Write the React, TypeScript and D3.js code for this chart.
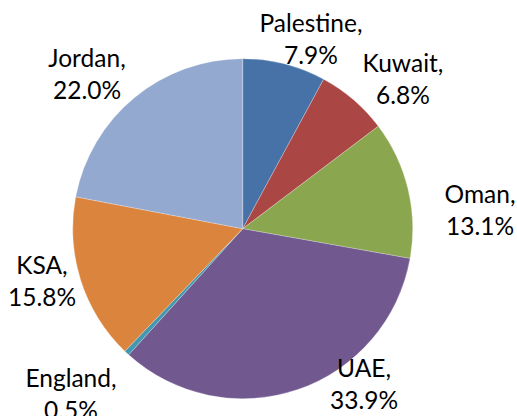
import React from "react";
import * as d3 from "d3";

const countries = ["Palestine", "Kuwait", "Oman", "UAE", "England", "KSA", "Jordan"];
const shares = [7.9, 6.8, 13.1, 33.9, 0.5, 15.8, 22.0];
const colors = ["#4672A8", "#AA4644", "#8AA64F", "#71588F", "#4198AF", "#DB843D", "#93A9CF"];
// label box centers (layout), first-line baseline
const labelX = [311, 403, 480, 364, 71, 42, 87];
const labelY = [32, 72, 203, 377, 387, 274, 67];

const W = 517;
const H = 416;
const cx = 242.7;
const cy = 228.7;
const R = 170;

export default function App() {
  const pie = d3.pie<number>().sort(null).value((d) => d);
  const arcs = pie(shares);
  const arc = d3.arc<d3.PieArcDatum<number>>().innerRadius(0).outerRadius(R);
  return (
    <svg
      width={W}
      height={H}
      style={{ position: "absolute", left: 0, top: 0, background: "#fff" }}
      fontFamily="Lato, 'Open Sans', sans-serif"
    >
      <g transform={`translate(${cx},${cy})`}>
        {arcs.map((a, i) => (
          <path key={i} d={arc(a) || ""} fill={colors[i]} stroke="#ffffff" strokeOpacity={0.5} strokeWidth={0.5} />
        ))}
      </g>
      {countries.map((c, i) => (
        <text key={c} x={labelX[i]} y={labelY[i]} textAnchor="middle" fontSize={24.5} fill="#000">
          <tspan x={labelX[i]}>{c},</tspan>
          <tspan x={labelX[i]} dy={32}>{shares[i].toFixed(1)}%</tspan>
        </text>
      ))}
    </svg>
  );
}
